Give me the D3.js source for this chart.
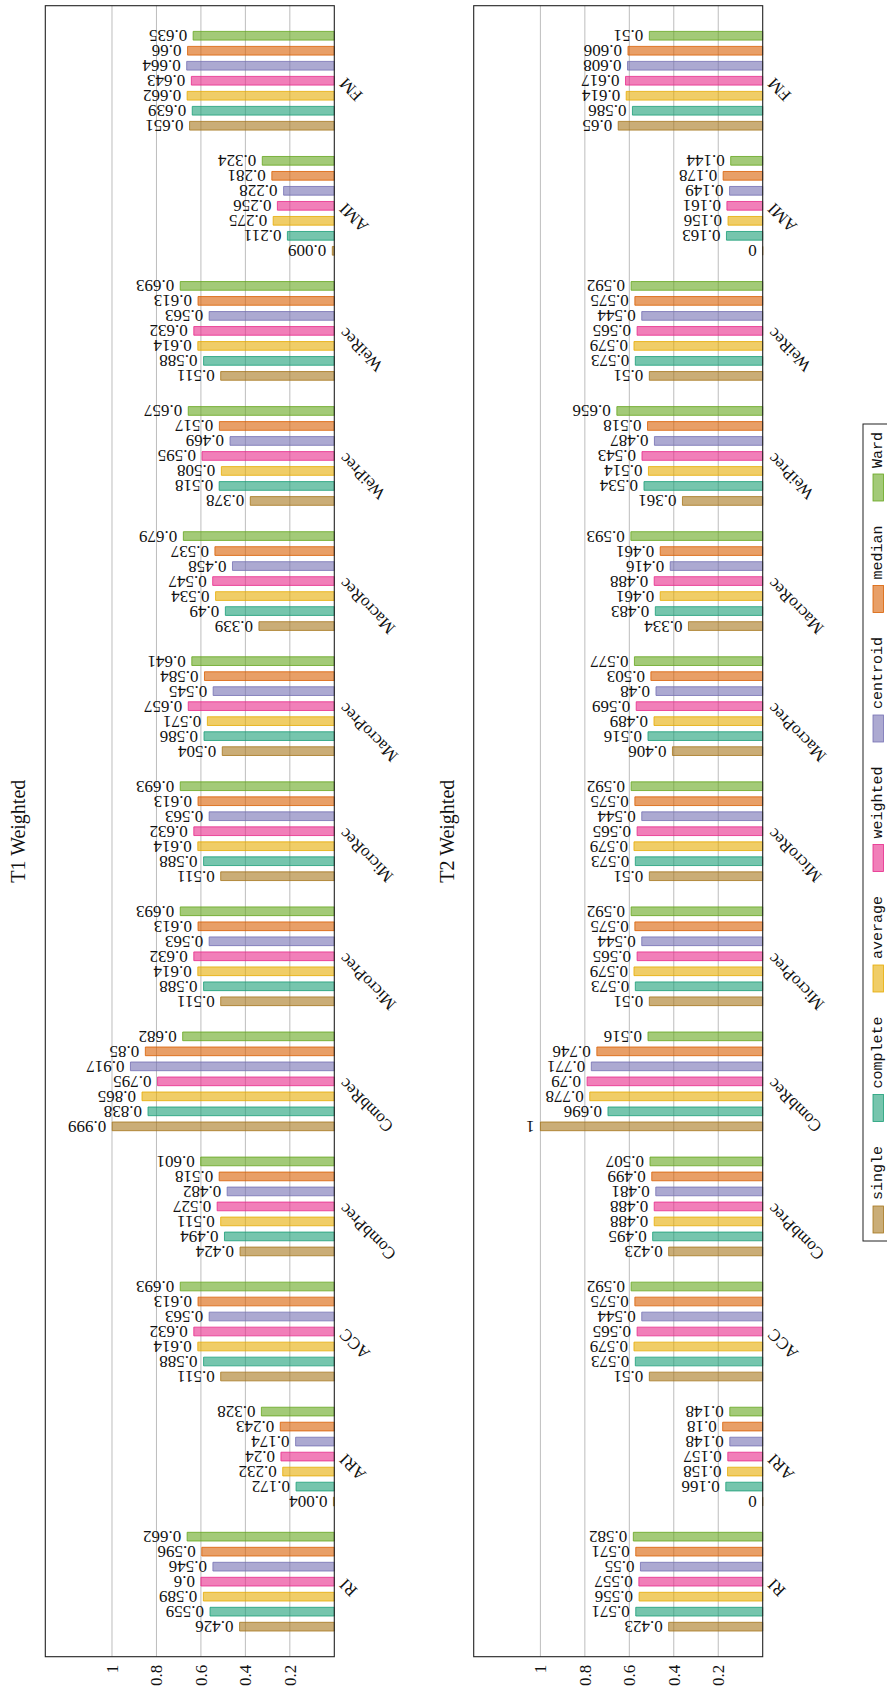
<!DOCTYPE html>
<html>
<head>
<meta charset="utf-8">
<script src="https://cdn.jsdelivr.net/npm/d3@7"></script>
<style>
  body { margin: 0; background: #fff; }
  svg { display: block; }
</style>
</head>
<body>
<svg id="chart" width="887" height="1693"></svg>
<script>
// Evaluation metrics (one group of bars each) and linkage methods (one bar each)
const categories = ["RI", "ARI", "ACC", "CombPrec", "CombRec", "MicroPrec", "MicroRec",
                    "MacroPrec", "MacroRec", "WeiPrec", "WeiRec", "AMI", "FM"];
const seriesNames = ["single", "complete", "average", "weighted", "centroid", "median", "Ward"];
const seriesColors = ["#a6761d", "#1b9e77", "#e6ab02", "#e7298a", "#7570b3", "#d95f02", "#66a61e"];
const valueTicks = [0.2, 0.4, 0.6, 0.8, 1];

// T1 weighted scores, in category order
const t1Single   = [0.426, 0.004, 0.511, 0.424, 0.999, 0.511, 0.511, 0.504, 0.339, 0.378, 0.511, 0.009, 0.651];
const t1Complete = [0.559, 0.172, 0.588, 0.494, 0.838, 0.588, 0.588, 0.586, 0.49, 0.518, 0.588, 0.211, 0.639];
const t1Average  = [0.589, 0.232, 0.614, 0.511, 0.865, 0.614, 0.614, 0.571, 0.534, 0.508, 0.614, 0.275, 0.662];
const t1Weighted = [0.6, 0.24, 0.632, 0.527, 0.795, 0.632, 0.632, 0.657, 0.547, 0.595, 0.632, 0.256, 0.643];
const t1Centroid = [0.546, 0.174, 0.563, 0.482, 0.917, 0.563, 0.563, 0.545, 0.458, 0.469, 0.563, 0.228, 0.664];
const t1Median   = [0.596, 0.243, 0.613, 0.518, 0.85, 0.613, 0.613, 0.584, 0.537, 0.517, 0.613, 0.281, 0.66];
const t1Ward     = [0.662, 0.328, 0.693, 0.601, 0.682, 0.693, 0.693, 0.641, 0.679, 0.657, 0.693, 0.324, 0.635];

// T2 weighted scores, in category order
const t2Single   = [0.423, 0, 0.51, 0.423, 1, 0.51, 0.51, 0.406, 0.334, 0.361, 0.51, 0, 0.65];
const t2Complete = [0.571, 0.166, 0.573, 0.495, 0.696, 0.573, 0.573, 0.516, 0.483, 0.534, 0.573, 0.163, 0.586];
const t2Average  = [0.556, 0.158, 0.579, 0.488, 0.778, 0.579, 0.579, 0.489, 0.461, 0.514, 0.579, 0.156, 0.614];
const t2Weighted = [0.557, 0.157, 0.565, 0.488, 0.79, 0.565, 0.565, 0.569, 0.488, 0.543, 0.565, 0.161, 0.617];
const t2Centroid = [0.55, 0.148, 0.544, 0.481, 0.771, 0.544, 0.544, 0.48, 0.416, 0.487, 0.544, 0.149, 0.608];
const t2Median   = [0.571, 0.18, 0.575, 0.499, 0.746, 0.575, 0.575, 0.503, 0.461, 0.518, 0.575, 0.178, 0.606];
const t2Ward     = [0.582, 0.148, 0.592, 0.507, 0.516, 0.592, 0.592, 0.577, 0.593, 0.656, 0.592, 0.144, 0.51];

const panels = [
  { title: "T1 Weighted", top: 45.3,
    series: [t1Single, t1Complete, t1Average, t1Weighted, t1Centroid, t1Median, t1Ward] },
  { title: "T2 Weighted", top: 473.7,
    series: [t2Single, t2Complete, t2Average, t2Weighted, t2Centroid, t2Median, t2Ward] }
];

// The figure is laid out as a landscape page (categories left to right,
// values upward) and then turned a quarter turn counter-clockwise.
const PAGE_W = 1693;
const plotLeft = 36.3, plotRight = 1687.3, plotH = 289;
const serif = "'Liberation Serif', 'Times New Roman', serif";
const mono = "'Liberation Mono', 'DejaVu Sans Mono', monospace";

const svg = d3.select("#chart");
const page = svg.append("g").attr("transform", `translate(0,${PAGE_W}) rotate(-90)`);

const x = d3.scalePoint().domain(categories).range([plotLeft, plotRight]).padding(0.6);
const xInner = d3.scaleBand().domain(seriesNames).range([-52.5, 52.5])
  .paddingInner(0.42).paddingOuter(0.21);
const bw = xInner.bandwidth();

panels.forEach(panel => {
  const top = panel.top, bottom = top + plotH;
  const y = d3.scaleLinear().domain([0, 1.3]).range([bottom, top]);
  const g = page.append("g");

  // grid lines
  g.append("g").selectAll("line").data(valueTicks).join("line")
    .attr("x1", plotLeft).attr("x2", plotRight)
    .attr("y1", d => y(d)).attr("y2", d => y(d))
    .attr("stroke", "#bdbdbd").attr("stroke-width", 1);

  // value axis tick labels
  const yAxis = d3.axisLeft(y).tickValues(valueTicks).tickSize(0).tickPadding(8)
    .tickFormat(d => String(d));
  const ax = g.append("g").attr("transform", `translate(${plotLeft},0)`).call(yAxis);
  ax.select(".domain").remove();
  ax.selectAll("text").attr("font-family", serif).attr("font-size", 17).attr("fill", "#111");

  // bars and value labels
  seriesNames.forEach((name, si) => {
    const vals = panel.series[si];
    const col = seriesColors[si];
    const sg = g.append("g");
    sg.selectAll("path").data(categories).join("path")
      .attr("d", (c, i) => {
        const x0 = x(c) + xInner(name), y0 = y(0), y1 = y(vals[i]);
        return `M${x0},${y0}H${x0 + bw}V${y1}H${x0}Z`;
      })
      .attr("fill", col).attr("fill-opacity", 0.6)
      .attr("stroke", col).attr("stroke-width", 0.8);
    sg.selectAll("text").data(categories).join("text")
      .attr("transform", (c, i) =>
        `translate(${x(c) + xInner(name) + bw / 2},${y(vals[i]) - 6}) rotate(-90)`)
      .attr("text-anchor", "start").attr("dominant-baseline", "central")
      .attr("font-family", serif).attr("font-size", 17).attr("fill", "#111")
      .text((c, i) => String(vals[i]));
  });

  // frame
  g.append("rect").attr("x", plotLeft).attr("y", top)
    .attr("width", plotRight - plotLeft).attr("height", plotH)
    .attr("fill", "none").attr("stroke", "#222").attr("stroke-width", 1.1);

  // category labels
  g.append("g").selectAll("text").data(categories).join("text")
    .attr("transform", c => `translate(${x(c)},${bottom + 8}) rotate(-45)`)
    .attr("text-anchor", "end").attr("dominant-baseline", "central")
    .attr("font-family", serif).attr("font-size", 17).attr("fill", "#111")
    .text(c => c);

  // title
  g.append("text")
    .attr("x", (plotLeft + plotRight) / 2).attr("y", top - 27)
    .attr("text-anchor", "middle").attr("dominant-baseline", "central")
    .attr("font-family", serif).attr("font-size", 20).attr("fill", "#111")
    .text(panel.title);
});

// legend
const legLeft = 452, legRight = 1269, legTop = 863;
const lg = page.append("g");
lg.append("rect").attr("x", legLeft).attr("y", legTop)
  .attr("width", legRight - legLeft).attr("height", 32)
  .attr("fill", "#fff").attr("stroke", "#222").attr("stroke-width", 1);
const swW = 27, swH = 10.5, gapA = 6, fontLeg = 15;
const charW = fontLeg * 0.6;
const textTotal = d3.sum(seriesNames, s => s.length * charW);
const edge = 8;
const gapB = (legRight - legLeft - 2 * edge - textTotal - seriesNames.length * (swW + gapA)) / (seriesNames.length - 1);
let cx = legLeft + edge;
seriesNames.forEach((name, si) => {
  lg.append("rect").attr("x", cx).attr("y", legTop + 10).attr("width", swW).attr("height", swH)
    .attr("fill", seriesColors[si]).attr("fill-opacity", 0.6)
    .attr("stroke", seriesColors[si]).attr("stroke-width", 0.8);
  cx += swW + gapA;
  lg.append("text").attr("x", cx).attr("y", legTop + 15.5)
    .attr("dominant-baseline", "central")
    .attr("font-family", mono).attr("font-size", fontLeg).attr("fill", "#111")
    .text(name);
  cx += name.length * charW + gapB;
});
</script>
</body>
</html>
